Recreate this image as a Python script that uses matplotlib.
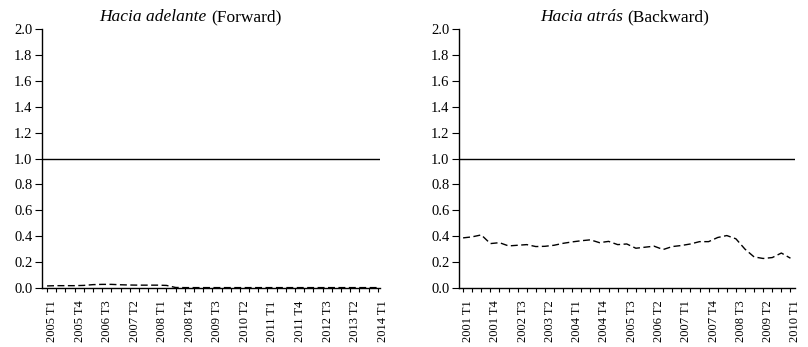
import numpy as np
import matplotlib
matplotlib.use('Agg')
import matplotlib.pyplot as plt
import matplotlib.transforms as mtransforms

# quarter labels
def quarters(start_year, n):
    out = []
    for k in range(n):
        out.append(str(start_year + k // 4) + ' T' + str(k % 4 + 1))
    return out

fwd_quarters = quarters(2005, 37)   # 2005 T1 .. 2014 T1
bwd_quarters = quarters(2001, 37)   # 2001 T1 .. 2010 T1

# series
fwd_values = [0.016, 0.018, 0.018, 0.018, 0.020, 0.026, 0.028, 0.028, 0.025, 0.023,
              0.022, 0.022, 0.022, 0.020, 0.004, 0.003, 0.003, 0.003, 0.003, 0.003,
              0.003, 0.003, 0.003, 0.003, 0.003, 0.003, 0.003, 0.003, 0.003, 0.003,
              0.003, 0.003, 0.003, 0.003, 0.003, 0.003, 0.003]
bwd_values = [0.387, 0.395, 0.410, 0.343, 0.350, 0.325, 0.330, 0.335, 0.320, 0.322,
              0.330, 0.345, 0.356, 0.365, 0.372, 0.350, 0.360, 0.335, 0.340, 0.307,
              0.315, 0.323, 0.297, 0.320, 0.328, 0.340, 0.358, 0.358, 0.390, 0.405,
              0.380, 0.300, 0.240, 0.228, 0.235, 0.270, 0.230]
ref_level = 1.0

titles = [('Hacia adelante', '(Forward)'), ('Hacia atrás', '(Backward)')]

plt.rcParams['font.family'] = 'Liberation Serif'

fig = plt.figure(figsize=(8.08, 3.47), dpi=100)
bottom = 1 - 288 / 347.
top = 1 - 29 / 347.
ax1 = fig.add_axes([42 / 808., bottom, (380 - 42) / 808., top - bottom])
ax2 = fig.add_axes([459 / 808., bottom, (795 - 459) / 808., top - bottom])

panels = [(ax1, fwd_quarters, fwd_values, (-0.55, 36.25)),
          (ax2, bwd_quarters, bwd_values, (-0.45, 36.5))]

shift = mtransforms.ScaledTranslation(5 / 100., 0, fig.dpi_scale_trans)

for (ax, labels, values, xl), (t_it, t_rm) in zip(panels, titles):
    x = np.arange(len(values))
    ax.plot(x, values, color='black', lw=1.0, linestyle=(0, (5, 2.5)))
    ax.axhline(ref_level, color='black', lw=1.0)
    ax.set_xlim(xl)
    ax.set_ylim(0, 2.0)
    ax.set_yticks(np.arange(0, 2.01, 0.2))
    ax.set_yticklabels(['%.1f' % v for v in np.arange(0, 2.01, 0.2)], fontsize=10.5)
    ax.set_xticks(x[::3])
    ax.set_xticklabels(labels[::3], rotation=90, fontsize=9)
    ax.set_xticks(x, minor=True)
    ax.tick_params(axis='x', which='both', direction='out', length=3, width=0.8, pad=6)
    ax.tick_params(axis='y', direction='out', length=5, width=0.8, pad=2)
    for lab in ax.get_xticklabels():
        lab.set_transform(lab.get_transform() + shift)
    for s in ['top', 'right']:
        ax.spines[s].set_visible(False)
    for s in ['left', 'bottom']:
        ax.spines[s].set_linewidth(1.0)
    # title: italic part + upright part
    ax.text(0.5, 1.015, t_it + ' ', transform=ax.transAxes, ha='right', va='bottom',
            fontsize=12.5, style='italic')
    ax.text(0.5, 1.015, t_rm, transform=ax.transAxes, ha='left', va='bottom',
            fontsize=12.5)

fig.savefig('out.png', dpi=100)
